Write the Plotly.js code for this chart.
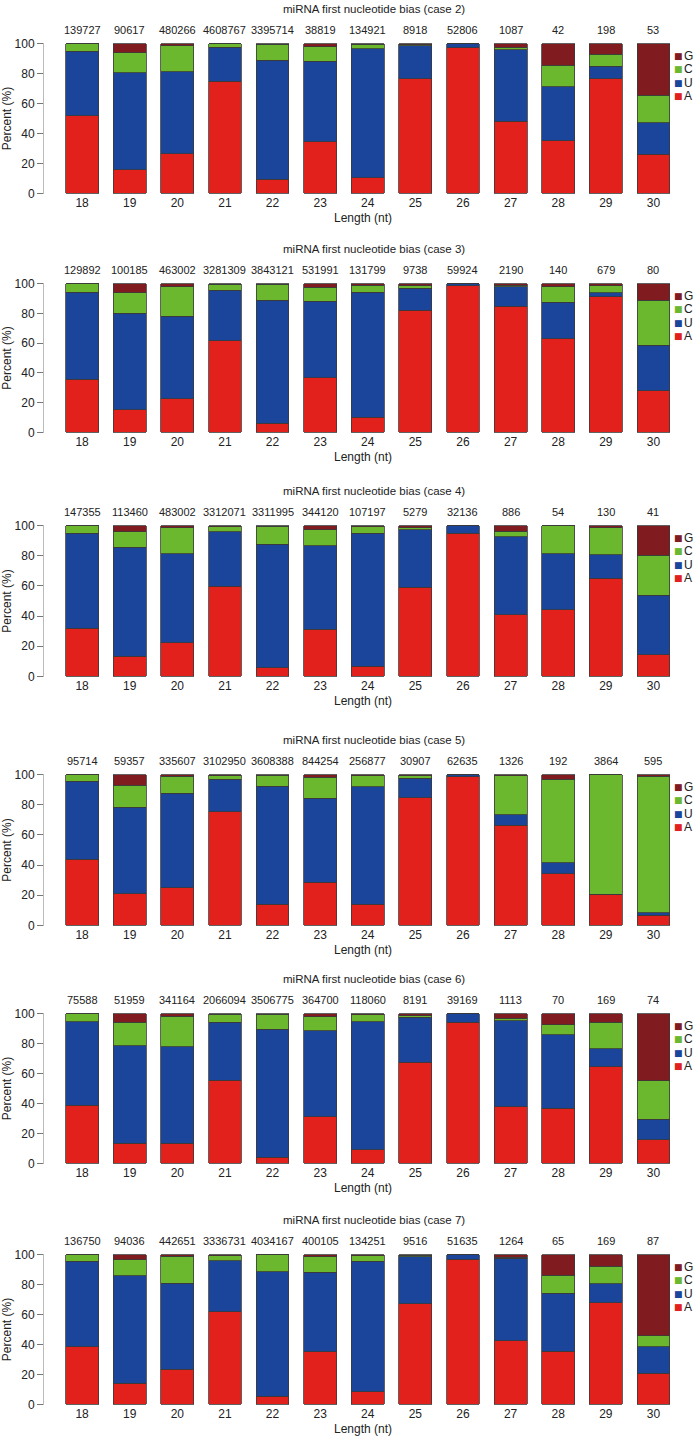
<!DOCTYPE html>
<html><head><meta charset="utf-8">
<script src="https://cdn.plot.ly/plotly-3.0.1.min.js"></script>
<style>html,body{margin:0;padding:0;background:#fff}</style>
</head><body><div id="chart" style="width:696px;height:1439px"></div>
<script>
// Read lengths
const lengths = [18,19,20,21,22,23,24,25,26,27,28,29,30];
const cases = ["case 2","case 3","case 4","case 5","case 6","case 7"];

// Read counts shown above each bar
const counts2 = [139727,90617,480266,4608767,3395714,38819,134921,8918,52806,1087,42,198,53];
const counts3 = [129892,100185,463002,3281309,3843121,531991,131799,9738,59924,2190,140,679,80];
const counts4 = [147355,113460,483002,3312071,3311995,344120,107197,5279,32136,886,54,130,41];
const counts5 = [95714,59357,335607,3102950,3608388,844254,256877,30907,62635,1326,192,3864,595];
const counts6 = [75588,51959,341164,2066094,3506775,364700,118060,8191,39169,1113,70,169,74];
const counts7 = [136750,94036,442651,3336731,4034167,400105,134251,9516,51635,1264,65,169,87];

// Percent of first nucleotide A / U / C / G
const A2 = [52,15.7,26.5,75,9.3,34.4,10.6,76.4,97.1,48.3,35.3,76.4,26];
const U2 = [43,64.7,54.7,22.4,79.7,53.9,85.9,22.1,2.9,47.7,36,8.4,21];
const C2 = [5,13.6,17.3,2.4,10.5,9.5,3.1,0.8,0,1.4,14.4,8.2,18.6];
const G2 = [0,6,1.5,0.2,0.5,2.2,0.4,0.7,0,2.6,14.3,7,34.4];

const A3 = [35.8,15.1,22.7,61.6,6,36.7,10.2,82,98.4,84.7,63.1,91.1,28];
const U3 = [58.4,65.1,55.3,34,82.9,51.3,84,14.9,1.6,13.1,24.2,2.9,30.7];
const C3 = [5.8,13.8,20,4,10.7,9.6,4.7,1.5,0,1.1,10.5,4.4,30.2];
const G3 = [0,6,2,0.4,0.4,2.4,1.1,1.6,0,1.1,2.2,1.6,11.1];

const A4 = [32,13.4,22.4,59.9,5.9,31.4,6.6,59.2,95,40.8,44.3,65.1,14.5];
const U4 = [63,72.1,59,35.9,81.8,55.2,88.4,38.2,5,51.7,37.1,15.6,39.4];
const C4 = [5,10.5,17.1,3.5,11.9,10.8,4.3,1.3,0,3.8,18.6,17.8,26.4];
const G4 = [0,4,1.5,0.7,0.4,2.6,0.7,1.3,0,3.7,0,1.5,19.7];

const A5 = [44,21.1,24.9,75.3,13.9,28.6,14.1,84.8,98.5,66.3,34.1,20.7,6.8];
const U5 = [51.6,57.3,62.8,21.6,78.4,55.8,78,12.8,1.5,7,7.3,0,1.6];
const C5 = [4.4,14.6,11.2,2.4,7.3,13.8,7,1.5,0,26,55.5,79.3,90.5];
const G5 = [0,7,1.1,0.7,0.4,1.8,0.9,0.9,0,0.7,3.1,0,1.1];

const A6 = [38.9,13.6,13.6,55.6,4.2,31,9,67.5,94.1,37.8,36.9,64.4,15.8];
const U6 = [55.6,65.1,64.4,38.5,85.5,57.4,85.7,30.1,5.9,57.4,49,12.3,13.7];
const C6 = [5.3,15.4,20.2,5.5,9.9,9.4,4.6,1.1,0,1.7,6.8,17.4,25.7];
const G6 = [0.2,5.9,1.8,0.4,0.4,2.2,0.7,1.3,0,3.1,7.3,5.9,44.8];

const A7 = [38.4,14.1,23.4,62,5.5,35.3,8.6,67.1,96.9,42.6,35.5,68,20.8];
const U7 = [57.2,71.8,57.6,34,83.2,53,87,31.6,3.1,54.8,38.7,12.4,17.8];
const C7 = [4.4,10.6,17.9,3.3,11.1,10.2,3.7,0.9,0,0.8,12.1,11.7,7.3];
const G7 = [0,3.5,1.1,0.7,0.2,1.5,0.7,0.4,0,1.8,13.7,7.9,54.1];

const nucleotides = ["A","U","C","G"];
const legendOrder = ["G","C","U","A"];
const colors = {A:"#e3211c", U:"#1b459b", C:"#6bb82f", G:"#801b1f"};

const panelData = [
  {A:A2,U:U2,C:C2,G:G2,counts:counts2},
  {A:A3,U:U3,C:C3,G:G3,counts:counts3},
  {A:A4,U:U4,C:C4,G:G4,counts:counts4},
  {A:A5,U:U5,C:C5,G:G5,counts:counts5},
  {A:A6,U:U6,C:C6,G:G6,counts:counts6},
  {A:A7,U:U7,C:C7,G:G7,counts:counts7}
];

// layout geometry (pixels)
const W = 696, H = 1439;
const plotTops = [43,283,525,774,1013,1254];
const plotBots = [194,433,677,926,1164,1405];
const xLeft = 44, xRight = 682;
const FONT = "Liberation Sans, Arial, Helvetica, sans-serif";

const traces = [];
const layout = {
  width: W, height: H,
  margin: {l:0,r:0,t:0,b:0},
  paper_bgcolor: "#fff", plot_bgcolor: "#fff",
  barmode: "stack", bargap: 0.31,
  font: {family: FONT, size: 12, color: "#222"},
  annotations: [],
  showlegend: false
};

panelData.forEach((pd, k) => {
  const sfx = k === 0 ? "" : String(k+1);
  const xa = "x" + sfx, ya = "y" + sfx;
  nucleotides.forEach(nt => {
    traces.push({
      type: "bar", x: lengths, y: pd[nt], name: nt,
      xaxis: xa, yaxis: ya, legendgroup: nt,
      marker: {color: colors[nt], line: {color: "#3a3a3a", width: 0.8}},
      hoverinfo: "x+y+name"
    });
  });
  const yd = [1 - plotBots[k]/H, 1 - plotTops[k]/H];
  layout["xaxis" + sfx] = {
    domain: [xLeft/W, xRight/W], anchor: ya, range: [17.2, 30.6],
    tickvals: lengths, ticktext: lengths.map(String), ticks: "", showline: false,
    showgrid: false, zeroline: false, tickfont: {size: 12, color: "#222"},
    title: {text: "Length (nt)", font: {size: 12, color: "#222"}, standoff: 4}
  };
  layout["yaxis" + sfx] = {
    domain: yd, anchor: xa, range: [-0.4, 100.4],
    tickvals: [0,20,40,60,80,100], ticks: "outside", ticklen: 6, tickcolor: "#777",
    showline: true, linecolor: "#bbb", linewidth: 1, showgrid: false, zeroline: false,
    tickfont: {size: 12, color: "#222"},
    title: {text: "Percent (%)", font: {size: 12, color: "#222"}, standoff: 9}
  };
  // legend (G, C, U, A from top)
  legendOrder.forEach((nt, j) => {
    const yPx = plotTops[k] + 13 + j * 13.4;
    layout.annotations.push({
      xref: "paper", yref: "paper", x: 678/W, y: 1 - yPx/H,
      text: "■", showarrow: false, xanchor: "center", yanchor: "middle",
      font: {size: 9, color: colors[nt], family: "DejaVu Sans"}
    });
    layout.annotations.push({
      xref: "paper", yref: "paper", x: 682/W, y: 1 - yPx/H,
      text: nt, showarrow: false, xanchor: "left", yanchor: "middle",
      font: {size: 12, color: "#222"}
    });
  });
  // panel title
  layout.annotations.push({
    xref: "paper", yref: "paper", x: 374/W, y: 1 - (plotTops[k] - 34)/H,
    text: "miRNA first nucleotide bias (" + cases[k] + ")", showarrow: false,
    font: {size: 11.5, color: "#222"}, xanchor: "center", yanchor: "middle"
  });
  // counts above bars
  lengths.forEach((L, i) => {
    layout.annotations.push({
      xref: xa, yref: ya, x: L, y: 100, yanchor: "bottom", yshift: 6,
      text: String(pd.counts[i]), showarrow: false,
      font: {size: 11, color: "#222"}
    });
  });
});

Plotly.newPlot("chart", traces, layout, {displayModeBar: false, staticPlot: true});
</script></body></html>
